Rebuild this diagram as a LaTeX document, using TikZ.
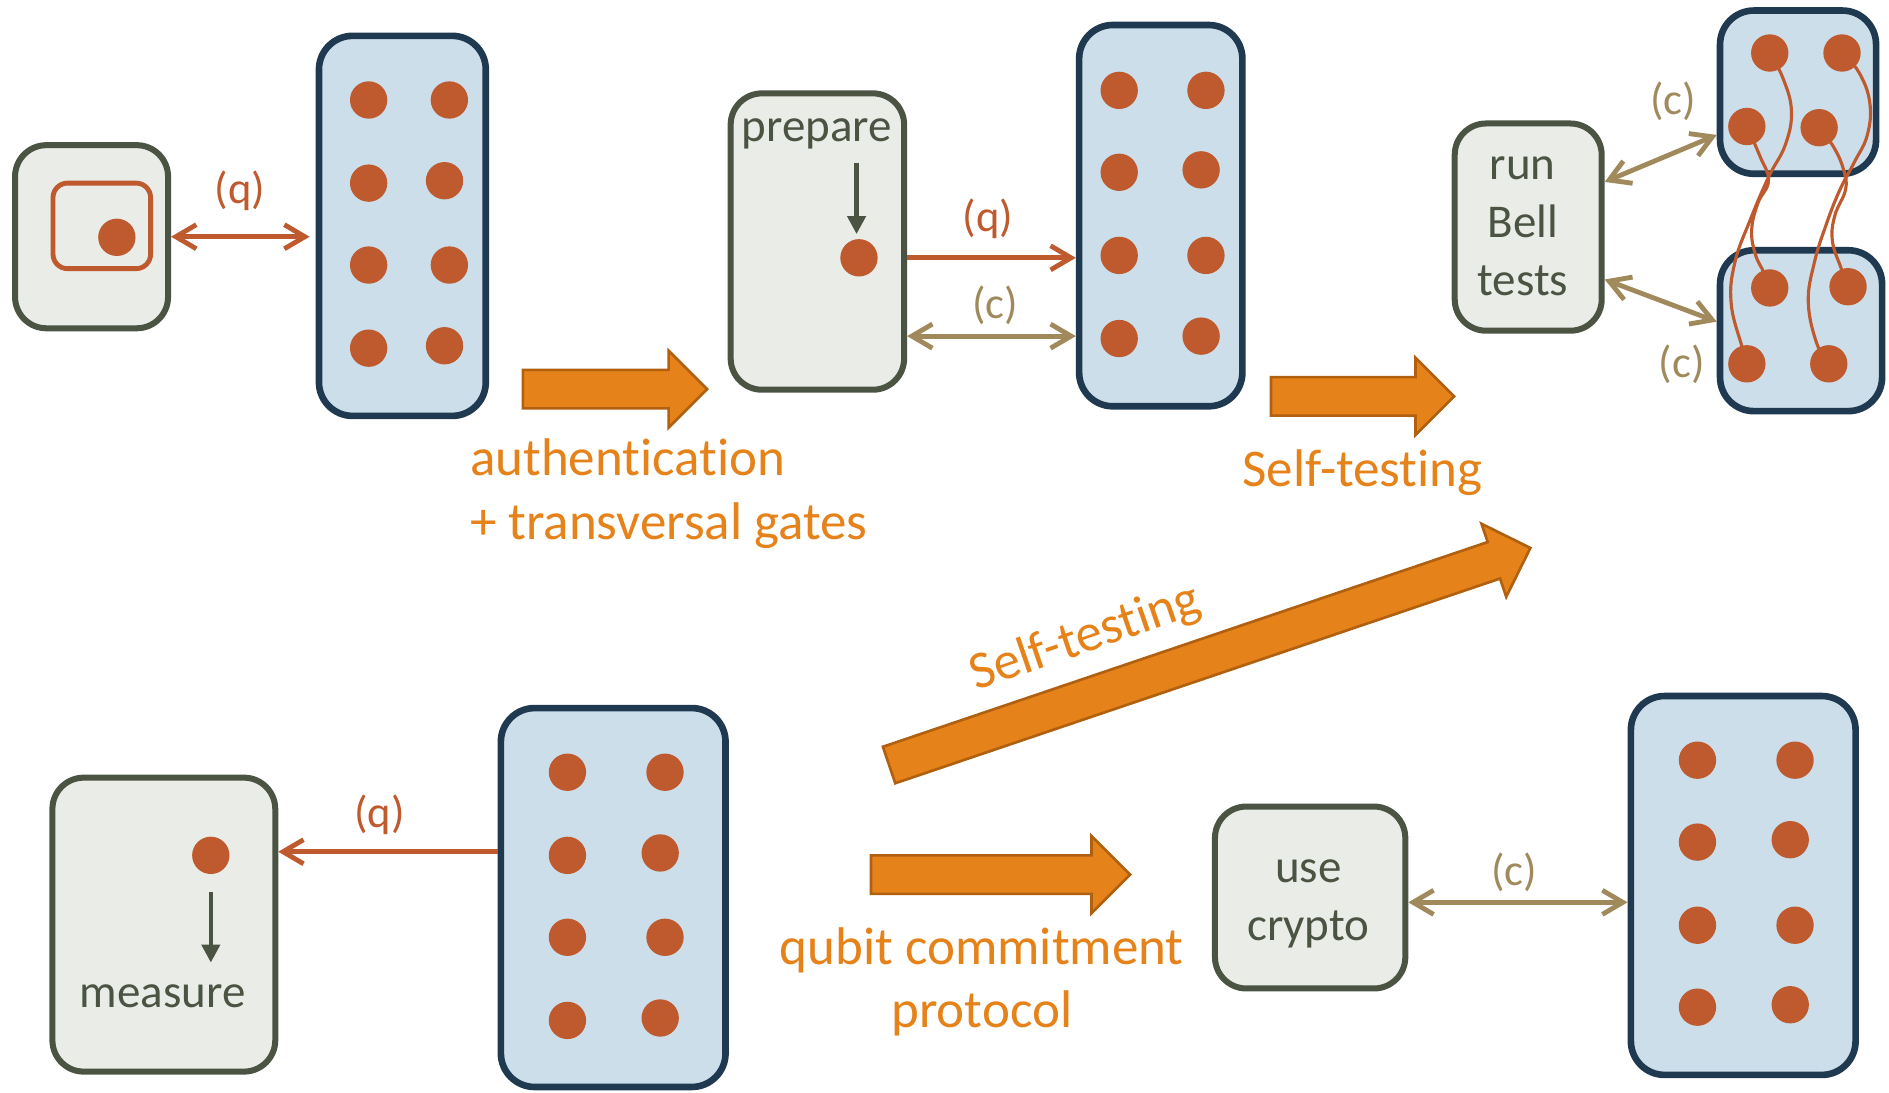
\documentclass[tikz,border=0pt]{standalone}
\usepackage{fontspec}
\setmainfont{Carlito}[Ligatures={NoCommon,NoContextual}]
\usetikzlibrary{arrows.meta}

\definecolor{devfill}{HTML}{E9ECE7}
\definecolor{devline}{HTML}{4B5443}
\definecolor{regfill}{HTML}{CCDEEA}
\definecolor{regline}{HTML}{1F3A50}
\definecolor{qcol}{HTML}{BE5A2D}
\definecolor{ccol}{HTML}{A08A5C}
\definecolor{stepfill}{HTML}{E5821A}
\definecolor{stepline}{HTML}{B0600F}

\tikzstyle{devbox} = [draw=devline, fill=devfill, line width=5pt, rounded corners=26pt, inner sep=0pt, text=devline, font=\fontsize{39}{48}\selectfont, align=center]
\tikzstyle{regbox} = [draw=regline, fill=regfill, line width=5.5pt, rounded corners=28pt, inner sep=0pt]
\tikzstyle{qdot} = [circle, fill=qcol, minimum size=31pt, inner sep=0pt]
\tikzstyle{qline} = [draw=qcol, line width=4pt, >={Straight Barb[length=17pt,width=20pt]}]
\tikzstyle{cline} = [draw=ccol, line width=4pt, >={Straight Barb[length=17pt,width=20pt]}]
\tikzstyle{wire} = [draw=qcol, line width=2.6pt]
\tikzstyle{markarrow} = [draw=devline, line width=3.6pt, -{Triangle[length=15pt,width=15pt]}]
\tikzstyle{chlabel} = [inner sep=0pt, font=\fontsize{37}{44}\selectfont]
\tikzstyle{boxlabel} = [inner sep=0pt, text=devline, font=\fontsize{39}{48}\selectfont]
\tikzstyle{steplabel} = [inner sep=0pt, text=stepfill, font=\fontsize{44}{53}\selectfont]
\tikzstyle{stepshape} = [fill=stepfill, draw=stepline, line width=2.2pt, line join=miter]

% block arrow: start point, angle, length
\newcommand{\steparrow}[3]{%
  \draw[stepshape, shift={(#1)}, rotate=#2] (0,-16) -- ({#3-32},-16) -- ({#3-32},-32)
    -- (#3,0) -- ({#3-32},32) -- ({#3-32},16) -- (0,16) -- cycle;}

\begin{document}
\begin{tikzpicture}[x=1pt, y=-1pt]
    \useasboundingbox (0,0) rectangle (1568,907);

    %encoded qubit sent to the server
    \node at (76,196.5) [devbox, minimum width=127pt, minimum height=152pt] (dev1) {};
    \node at (84.5,187.5) [draw=qcol, line width=4pt, rounded corners=12pt, minimum width=81pt, minimum height=71pt] (enc) {};
    \node at (97,197) [qdot] (dev1q) {};

    \node at (334,187.5) [regbox, minimum width=138.5pt, minimum height=315.5pt] (reg1) {};
    \foreach \x/\y in {306/83, 373/83, 306/152, 369/150, 306/220, 373/220, 306/289, 369/287}
        \node at (\x,\y) [qdot] {};

    \draw [qline, <->, shorten >=5pt] (dev1.east) -- (dev1.east -| reg1.west);
    \node at (199,158) [chlabel, text=qcol] {(q)};

    \steparrow{434,323}{0}{153}
    \node at (390,410) [steplabel, anchor=west, align=left] (authlbl) {authentication\\+ transversal gates};

    %prepare and send
    \node at (678.5,200.5) [devbox, minimum width=144pt, minimum height=246pt] (prep) {};
    \node at (678,111) [boxlabel] (preplbl) {prepare};
    \node at (713,214) [qdot] (prepq) {};
    \coordinate (prepfrom) at (711,135);
    \draw [markarrow, shorten >=4pt] (prepfrom) -- (prepfrom |- prepq.north);

    \node at (963.5,179) [regbox, minimum width=135.5pt, minimum height=316.5pt] (reg2) {};
    \foreach \x/\y in {929/75, 1001/75, 929/143, 997/141, 929/212, 1001/212, 929/281, 997/279}
        \node at (\x,\y) [qdot] {};

    \draw [qline, ->] (prep.east |- prepq) -- (reg2.west |- prepq);
    \node at (820,182) [chlabel, text=qcol] {(q)};
    \coordinate (prepc) at (753,279);
    \draw [cline, <->] (prep.east |- prepc) -- (reg2.west |- prepc);
    \node at (826,253) [chlabel, text=ccol] {(c)};

    \steparrow{1055,329}{0}{152}
    \node at (1131,392) [steplabel] {Self-testing};

    %Bell tests on the entangled pairs
    \node at (1268.5,188.5) [devbox, minimum width=122pt, minimum height=172pt] (bell) {};
    \node at (1264,188) [boxlabel, align=center] (belllbl) {run\\Bell\\tests};
    \node at (1492.5,76.5) [regbox, minimum width=129.5pt, minimum height=135.5pt] (top) {};
    \node at (1495,274.5) [regbox, minimum width=134.5pt, minimum height=133.5pt] (bot) {};

    \coordinate (t1) at (1469,44);
    \coordinate (t2) at (1529,44);
    \coordinate (t3) at (1450,105);
    \coordinate (t4) at (1510,106);
    \coordinate (b1) at (1469,239);
    \coordinate (b2) at (1534,238);
    \coordinate (b3) at (1450,302);
    \coordinate (b4) at (1518,302);

    \draw [wire] plot [smooth, tension=0.7] coordinates {(t1) (1480,65) (1487,92) (1482,120) (1468,147) (1453,182) (1440,218) (1437,252) (1446,288) (b3)};
    \draw [wire] plot [smooth, tension=0.7] coordinates {(t3) (1461,130) (1468,150) (1459,169) (1454,191) (1457,211) (1464,226) (b1)};
    \draw [wire] plot [smooth, tension=0.7] coordinates {(t2) (1543,60) (1552,85) (1550,112) (1539,135) (1527,158) (1516,186) (1506,218) (1501,251) (1508,285) (b4)};
    \draw [wire] plot [smooth, tension=0.7] coordinates {(t4) (1522,122) (1530,140) (1532,157) (1523,179) (1521,200) (1528,222) (b2)};

    \foreach \p in {t1, t2, t3, t4, b1, b2, b3, b4}
        \node at (\p) [qdot] {};

    \draw [cline, <->] ([shift={(0,-37.5)}]bell.east) -- ([shift={(0,35.5)}]top.west);
    \draw [cline, <->] ([shift={(0,43.5)}]bell.east) -- ([shift={(0,-7.5)}]bot.west);
    \node at (1389,84) [chlabel, text=ccol] {(c)};
    \node at (1396,302) [chlabel, text=ccol] {(c)};

    %receive and measure
    \node at (136,767.5) [devbox, minimum width=185pt, minimum height=244pt] (meas) {};
    \node at (175,710) [qdot] (measq) {};
    \node at (135,827) [boxlabel] (measlbl) {measure};
    \coordinate (measto) at (175,799);
    \draw [markarrow, shorten <=15pt] (measq.south) -- (measto);

    \node at (509,745) [regbox, minimum width=186.5pt, minimum height=314.5pt] (reg3) {};
    \foreach \x/\y in {471/641, 552/641, 471/710, 548/708, 471/778, 552/778, 471/847, 548/845}
        \node at (\x,\y) [qdot] {};

    \coordinate (measq2) at (410,707);
    \draw [qline, ->] (reg3.west |- measq2) -- (meas.east |- measq2);
    \node at (315,676) [chlabel, text=qcol] {(q)};

    \steparrow{738,635}{18.7}{562}
    \node at (901,530) [steplabel, rotate=19] {Self-testing};

    \steparrow{723,726}{0}{215}
    \node at (815,815) [steplabel, align=center] {qubit commitment\\protocol};

    %classical crypto with the server
    \node at (1087.5,745) [devbox, minimum width=158pt, minimum height=151pt] (crypto) {};
    \node at (1086,750) [boxlabel, align=center] (cryptolbl) {use\\crypto};

    \node at (1447,735) [regbox, minimum width=186.5pt, minimum height=314.5pt] (reg4) {};
    \foreach \x/\y in {1409/631, 1490/631, 1409/699, 1486/697, 1409/768, 1490/768, 1409/836, 1486/834}
        \node at (\x,\y) [qdot] {};

    \coordinate (cryptoc) at (1170,749);
    \draw [cline, <->] (crypto.east |- cryptoc) -- (reg4.west |- cryptoc);
    \node at (1257,724) [chlabel, text=ccol] {(c)};

\end{tikzpicture}
\end{document}
